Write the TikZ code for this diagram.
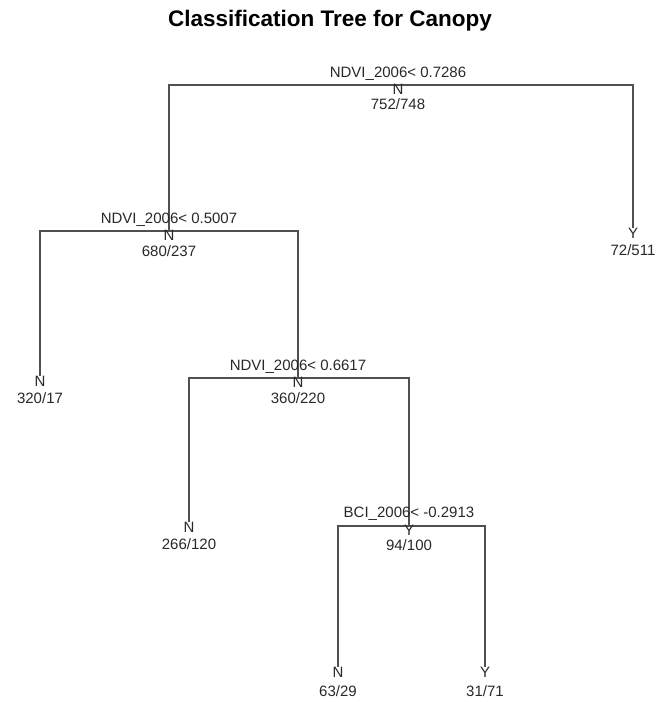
\documentclass[tikz,border=0pt]{standalone}
\usepackage{fontspec}
\setmainfont{Liberation Sans}
\usetikzlibrary{calc}
\definecolor{treeline}{RGB}{80,80,80}
\definecolor{treetext}{RGB}{40,40,40}
\tikzset{
    splitlab/.style={
        font=\fontsize{15}{18}\selectfont, text=treetext, inner sep=0pt
    },
    clslab/.style={
        font=\fontsize{15}{18}\selectfont, text=treetext, inner sep=0pt
    },
    branch/.style={
        draw=treeline, line width=1.4pt
    }
}

\begin{document}
\begin{tikzpicture}[x=1pt,y=-1pt,line cap=butt,line join=miter]

% --- frame (pixel coordinates of the reference, y downwards) ---
    \useasboundingbox (0,0) rectangle (656,702);

% title
    \node[font=\bfseries\fontsize{22.5}{26}\selectfont] (title) at (330,21) {Classification Tree for Canopy};

% --- tree nodes: split points at the bars, leaves at the line ends ---
    \coordinate (n1) at (398,85);    % root
    \coordinate (n2) at (169,231);   % NDVI_2006 < 0.5007
    \coordinate (n3) at (633,228);   % leaf 72/511
    \coordinate (n4) at (40,376);    % leaf 320/17
    \coordinate (n5) at (298,378);   % NDVI_2006 < 0.6617
    \coordinate (n10) at (189,522);  % leaf 266/120
    \coordinate (n11) at (409,526);  % BCI_2006 < -0.2913
    \coordinate (n22) at (338,667);  % leaf 63/29
    \coordinate (n23) at (485,667);  % leaf 31/71

% branches
    \draw[branch] (n2) |- (n1) -| (n3);
    \draw[branch] (n4) |- (n2) -| (n5);
    \draw[branch] (n10) |- (n5) -| (n11);
    \draw[branch] (n22) |- (n11) -| (n23);

% split labels
    \node[splitlab] (s1) at ($ (n1) + (0,-11) $) {NDVI\_2006< 0.7286};
    \node[splitlab] (s2) at ($ (n2) + (0,-11) $) {NDVI\_2006< 0.5007};
    \node[splitlab] (s5) at ($ (n5) + (0,-11) $) {NDVI\_2006< 0.6617};
    \node[splitlab] (s11) at ($ (n11) + (0,-12) $) {BCI\_2006< -0.2913};

% class and counts, internal nodes
    \node[clslab] (c1) at ($ (n1) + (0,4) $) {N};
    \node[clslab] (k1) at ($ (n1) + (0,19) $) {752/748};
    \node[clslab] (c2) at ($ (n2) + (0,4) $) {N};
    \node[clslab] (k2) at ($ (n2) + (0,20) $) {680/237};
    \node[clslab] (c5) at ($ (n5) + (0,4) $) {N};
    \node[clslab] (k5) at ($ (n5) + (0,20) $) {360/220};
    \node[clslab] (c11) at ($ (n11) + (0,4) $) {Y};
    \node[clslab] (k11) at ($ (n11) + (0,19) $) {94/100};

% class and counts, leaves
    \node[clslab] (c3) at ($ (n3) + (0,5) $) {Y};
    \node[clslab] (k3) at ($ (n3) + (0,22) $) {72/511};
    \node[clslab] (c4) at ($ (n4) + (0,5) $) {N};
    \node[clslab] (k4) at ($ (n4) + (0,22) $) {320/17};
    \node[clslab] (c10) at ($ (n10) + (0,5) $) {N};
    \node[clslab] (k10) at ($ (n10) + (0,22) $) {266/120};
    \node[clslab] (c22) at ($ (n22) + (0,5) $) {N};
    \node[clslab] (k22) at ($ (n22) + (0,24) $) {63/29};
    \node[clslab] (c23) at ($ (n23) + (0,5) $) {Y};
    \node[clslab] (k23) at ($ (n23) + (0,24) $) {31/71};

\end{tikzpicture}
\end{document}
